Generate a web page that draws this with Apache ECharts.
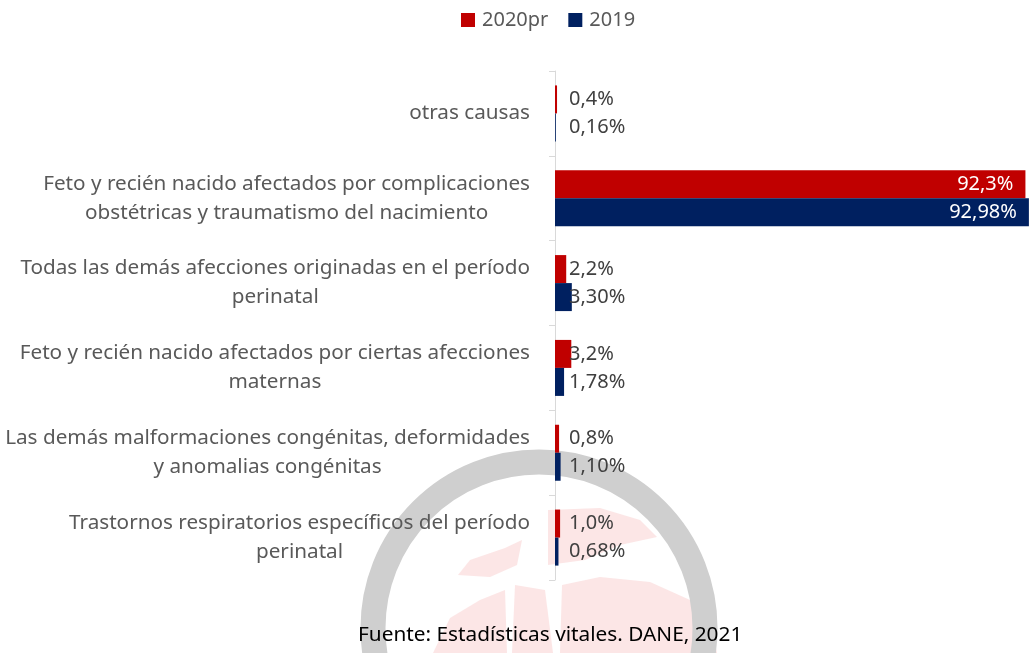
<!DOCTYPE html>
<html>
<head>
<meta charset="utf-8">
<script src="https://cdn.jsdelivr.net/npm/echarts@6/dist/echarts.min.js"></script>
<style>
  html, body { margin: 0; padding: 0; background: #fff; }
  #chart { width: 1029px; height: 653px; }
</style>
</head>
<body>
<div id="chart"></div>
<script>
// categorias, de arriba hacia abajo
const categories = [
    "otras causas",
    "Feto y recién nacido afectados por complicaciones\nobstétricas y traumatismo del nacimiento",
    "Todas las demás afecciones originadas en el período\nperinatal",
    "Feto y recién nacido afectados por ciertas afecciones\nmaternas",
    "Las demás malformaciones congénitas, deformidades\ny anomalias congénitas",
    "Trastornos respiratorios específicos del período\nperinatal",
];
const values2020 = [0.4, 92.3, 2.2, 3.2, 0.8, 1.0];
const values2019 = [0.16, 92.98, 3.3, 1.78, 1.1, 0.68];

const font = "'Noto Sans', sans-serif";
const myChart = echarts.init(document.getElementById("chart"));

// etiqueta con coma decimal
const fmt = (digits) => (p) => p.value.toFixed(digits).replace(".", ",") + "%";

// la barra grande lleva la etiqueta adentro, en blanco
const barData = (list) =>
    list.map((v) =>
        v > 50
            ? { value: v, label: { position: "insideRight", color: "#fff", distance: 12 } }
            : { value: v }
    );

const labelStyle = {
    show: true,
    position: "insideLeft",
    distance: 14,
    color: "#404040",
    fontSize: 20,
    fontFamily: font,
};

// marca de agua (decorativa)
const pink = { fill: "rgba(250, 205, 205, 0.5)" };
const ring = { stroke: "#cfcfcf", lineWidth: 25, fill: null };
const watermark = [
    { type: "arc", z: -10, shape: { cx: 539, cy: 628, r: 166, startAngle: Math.PI, endAngle: 2 * Math.PI }, style: ring },
    { type: "arc", z: -10, shape: { cx: 539, cy: 628, r: 166, startAngle: 0, endAngle: Math.PI * 0.2 }, style: ring },
    { type: "arc", z: -10, shape: { cx: 539, cy: 628, r: 166, startAngle: Math.PI * 0.8, endAngle: Math.PI }, style: ring },
    { type: "polygon", z: -11, shape: { points: [[548, 510], [600, 508], [640, 520], [657, 537], [620, 545], [585, 560], [548, 565]] }, style: pink },
    { type: "polygon", z: -11, shape: { points: [[522, 540], [505, 548], [470, 560], [458, 575], [490, 577], [517, 565]] }, style: pink },
    { type: "polygon", z: -11, shape: { points: [[505, 590], [480, 600], [450, 618], [433, 653], [507, 653]] }, style: pink },
    { type: "polygon", z: -11, shape: { points: [[515, 585], [545, 590], [553, 653], [512, 653]] }, style: pink },
    { type: "polygon", z: -11, shape: { points: [[562, 585], [600, 577], [650, 582], [690, 600], [712, 630], [717, 653], [560, 653]] }, style: pink },
];

const option = {
    animation: false,
    backgroundColor: "#fff",
    textStyle: { fontFamily: font },
    legend: {
        top: 5,
        left: 456,
        itemWidth: 14,
        itemHeight: 14,
        itemGap: 20,
        icon: "rect",
        textStyle: { color: "#595959", fontSize: 20, fontFamily: font, padding: [0, 0, 0, 2] },
        data: ["2020pr", "2019"],
    },
    title: {
        text: "Fuente: Estadísticas vitales. DANE, 2021",
        left: 353,
        bottom: 2,
        textStyle: { color: "#000", fontSize: 20.8, fontWeight: "normal", fontFamily: font },
    },
    graphic: watermark,
    grid: { left: 555, right: 0, top: 71, bottom: 73, containLabel: false, outerBoundsMode: "none" },
    xAxis: {
        type: "value",
        min: 0,
        max: 93,
        show: false,
    },
    yAxis: {
        type: "category",
        inverse: true,
        data: categories,
        axisLine: { lineStyle: { color: "#d9d9d9", width: 1 } },
        axisTick: { show: true, length: 6, lineStyle: { color: "#d9d9d9" } },
        axisLabel: {
            margin: 25,
            color: "#595959",
            fontSize: 20.7,
            lineHeight: 29,
            fontFamily: font,
            formatter: (v) => v.split("\n").map((s) => "{c|" + s + "}").join("\n"),
            rich: {
                c: { align: "center", color: "#595959", fontSize: 20.7, lineHeight: 29, fontFamily: font },
            },
        },
    },
    series: [
        {
            name: "2020pr",
            type: "bar",
            barWidth: 28,
            barGap: "0%",
            itemStyle: { color: "#C00000" },
            label: Object.assign({}, labelStyle, { formatter: fmt(1) }),
            data: barData(values2020),
        },
        {
            name: "2019",
            type: "bar",
            barWidth: 28,
            itemStyle: { color: "#002060" },
            label: Object.assign({}, labelStyle, { formatter: fmt(2) }),
            data: barData(values2019),
        },
    ],
};
myChart.setOption(option);
</script>
</body>
</html>
